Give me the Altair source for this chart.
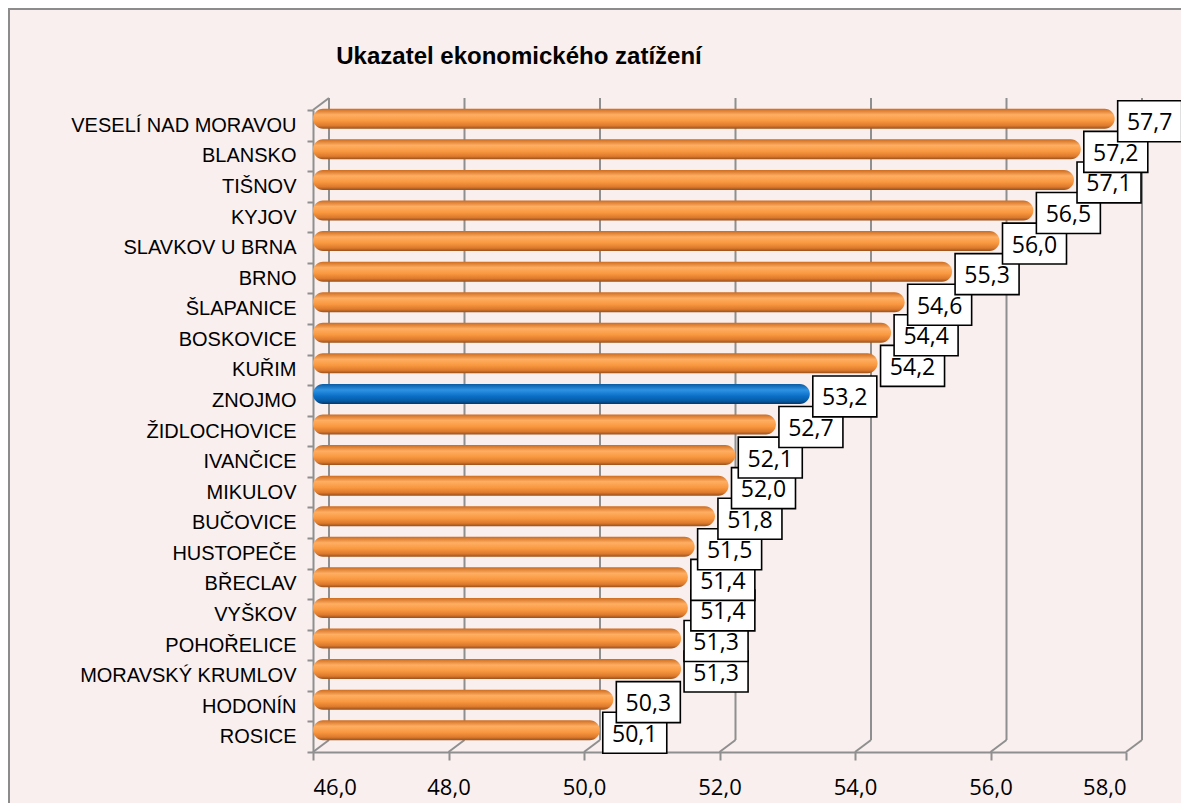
import altair as alt
import pandas as pd

categories = ["VESELÍ NAD MORAVOU", "BLANSKO", "TIŠNOV", "KYJOV", "SLAVKOV U BRNA",
              "BRNO", "ŠLAPANICE", "BOSKOVICE", "KUŘIM", "ZNOJMO", "ŽIDLOCHOVICE",
              "IVANČICE", "MIKULOV", "BUČOVICE", "HUSTOPEČE", "BŘECLAV", "VYŠKOV",
              "POHOŘELICE", "MORAVSKÝ KRUMLOV", "HODONÍN", "ROSICE"]
values = [57.7, 57.2, 57.1, 56.5, 56.0, 55.3, 54.6, 54.4, 54.2, 53.2, 52.7,
          52.1, 52.0, 51.8, 51.5, 51.4, 51.4, 51.3, 51.3, 50.3, 50.1]
highlight = "ZNOJMO"
ticks = [46, 48, 50, 52, 54, 56, 58]
title_text = "Ukazatel ekonomického zatížení"

df = pd.DataFrame({"cat": categories, "value": values})
df_rev = df.iloc[::-1].reset_index(drop=True)
tick_df = pd.DataFrame({"t": ticks})
first_tick = tick_df.head(1)
title_df = pd.DataFrame({"title": [title_text]})

W, H = 813, 642
DX, DY = 16, -12
GRID = "#8f8f8f"
BG = "#f9efee"

xscale = alt.Scale(domain=[46, 58], zero=False, nice=False)
yscale = alt.Scale(domain=categories, paddingInner=0, paddingOuter=0)
fmt = "replace(format(datum.value, '.1f'), '.', ',')"

xaxis = alt.Axis(values=ticks, labelExpr=fmt, grid=False, domainColor=GRID,
                 domainWidth=2, tickColor=GRID, tickWidth=2, tickSize=8,
                 labelFont="Open Sans", labelFontSize=22, labelColor="black",
                 labelPadding=34, labelBaseline="alphabetic", title=None)
yaxis = alt.Axis(tickBand="extent", grid=False, domainColor=GRID, domainWidth=2,
                 tickColor=GRID, tickWidth=2, tickSize=6, labelFont="Liberation Sans",
                 labelFontSize=20, labelColor="black", labelPadding=11, title=None,
                 labelLimit=0)

X_t = alt.X("t:Q", scale=xscale, axis=xaxis)
X_v = alt.X("value:Q", scale=xscale, axis=xaxis)
Y_c = alt.Y("cat:N", sort=categories, scale=yscale, axis=yaxis)

orange = alt.Gradient(gradient="linear", x1=0, x2=0, y1=0, y2=1, stops=[
    alt.GradientStop(color="#cc6b20", offset=0),
    alt.GradientStop(color="#ffae62", offset=0.3),
    alt.GradientStop(color="#f9983f", offset=0.6),
    alt.GradientStop(color="#dc792d", offset=0.85),
    alt.GradientStop(color="#97501b", offset=1)])
blue = alt.Gradient(gradient="linear", x1=0, x2=0, y1=0, y2=1, stops=[
    alt.GradientStop(color="#0a5aa2", offset=0),
    alt.GradientStop(color="#2f93e3", offset=0.3),
    alt.GradientStop(color="#0b70c8", offset=0.6),
    alt.GradientStop(color="#075aa3", offset=0.85),
    alt.GradientStop(color="#04386a", offset=1)])

# 3D back wall grid lines
back_grid = alt.Chart(tick_df).mark_rule(color=GRID, strokeWidth=2, xOffset=DX).encode(
    x=X_t, y=alt.value(DY), y2=alt.value(H + DY))
floor_diag = alt.Chart(tick_df).mark_rule(color=GRID, strokeWidth=2, x2Offset=DX).encode(
    x=X_t, x2="t:Q", y=alt.value(H), y2=alt.value(H + DY))
top_diag = alt.Chart(first_tick).mark_rule(color=GRID, strokeWidth=2, x2Offset=DX).encode(
    x=X_t, x2="t:Q", y=alt.value(0), y2=alt.value(DY))

bars = alt.Chart(df).transform_filter(alt.datum.cat != highlight).mark_bar(
    size=20, cornerRadius=10, yOffset=-6.5, xOffset=9, color=orange).encode(
    x=X_v, x2=alt.datum(46), y=Y_c)
bar_hi = alt.Chart(df).transform_filter(alt.datum.cat == highlight).mark_bar(
    size=20, cornerRadius=10, yOffset=-6.5, xOffset=9, color=blue).encode(
    x=X_v, x2=alt.datum(46), y=Y_c)

box_shape = "M-1,-0.64L1,-0.64L1,0.64L-1,0.64Z"
boxes = alt.Chart(df_rev).mark_point(shape=box_shape, size=4096, filled=True,
                                     fill="white", stroke="black", strokeWidth=1.6,
                                     opacity=1, xOffset=44, yOffset=-4).encode(
    x=X_v, y=Y_c)
labels = alt.Chart(df).transform_calculate(label=fmt).mark_text(
    font="Open Sans", fontSize=23, color="black", align="center", baseline="middle",
    xOffset=44, yOffset=-2).encode(x=X_v, y=Y_c, text="label:N")

title = alt.Chart(title_df).mark_text(
    font="Liberation Sans", fontWeight="bold", fontSize=24, color="black",
    align="center", baseline="alphabetic").encode(
    x=alt.value(206), y=alt.value(-46), text="title:N")

border = alt.Chart(first_tick).mark_rule(color="#8c8c8c", strokeWidth=2).encode(
    x=alt.value(-304), y=alt.value(-101), y2=alt.value(H + 60))
border_top = alt.Chart(first_tick).mark_rule(color="#8c8c8c", strokeWidth=2).encode(
    x=alt.value(-305), x2=alt.value(W + 60), y=alt.value(-101))

chart = alt.layer(back_grid, floor_diag, top_diag, bars, bar_hi, boxes, labels,
                  title, border, border_top).properties(
    width=W, height=H,
    autosize=alt.AutoSizeParams(type="none"),
    padding={"left": 305, "top": 102, "right": 55, "bottom": 51},
).configure(background=BG).configure_view(stroke=None)

chart.save("out.html", embed_options={"renderer": "svg", "actions": False})
